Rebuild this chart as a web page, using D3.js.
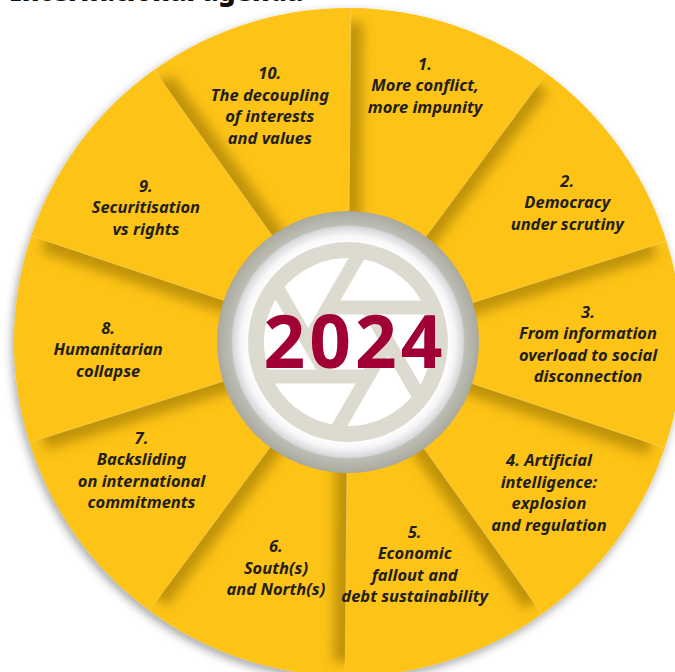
<!DOCTYPE html>
<html><head><meta charset="utf-8">
<script src="https://cdn.jsdelivr.net/npm/d3@7"></script>
<style>html,body{margin:0;padding:0;background:#fff;overflow:hidden}</style>
</head><body>
<svg id="chart" width="675" height="672"></svg>
<script>
// ---------- data ----------
const titleText = "International agenda";
const centerYear = "2024";
const topicLabels = [
  ["1.", "More conflict,", "more impunity"],
  ["2.", "Democracy", "under scrutiny"],
  ["3.", "From information", "overload to social", "disconnection"],
  ["4. Artificial", "intelligence:", "explosion", "and regulation"],
  ["5.", "Economic", "fallout and", "debt sustainability"],
  ["6.", "South(s)", "and North(s)"],
  ["7.", "Backsliding", "on international", "commitments"],
  ["8.", "Humanitarian", "collapse"],
  ["9.", "Securitisation", "vs rights"],
  ["10.", "The decoupling", "of interests", "and values"]
];
const topicWeights = [1, 1, 1, 1, 1, 1, 1, 1, 1, 1];

// ---------- layout ----------
const cx = 348, cy = 342, R = 334;
const rot = 0.5 * Math.PI / 180;
const YELLOW = "#FDC314";
const svg = d3.select("#chart");
const defs = svg.append("defs");

const fOuter = defs.append("filter").attr("id", "outerShadow")
  .attr("x", -0.2).attr("y", -0.2).attr("width", 1.4).attr("height", 1.4);
fOuter.append("feDropShadow").attr("dx", -2).attr("dy", 4).attr("stdDeviation", 5)
  .attr("flood-color", "#000").attr("flood-opacity", 0.35);

const fBlur = defs.append("filter").attr("id", "edgeBlur")
  .attr("filterUnits", "userSpaceOnUse")
  .attr("x", -400).attr("y", -400).attr("width", 800).attr("height", 800);
fBlur.append("feGaussianBlur").attr("stdDeviation", 6);

const gRing = defs.append("radialGradient").attr("id", "grayRing");
[[0.86, "#D2D1CA"], [0.9, "#BDBCB3"], [0.96, "#B2B1A8"], [1, "#A9A89F"]].forEach(s =>
  gRing.append("stop").attr("offset", s[0]).attr("stop-color", s[1]));
const gWhite = defs.append("radialGradient").attr("id", "whiteRing");
[[0.85, "#FFFFFF"], [0.92, "#F6F6F8"], [1, "#D5D5D9"]].forEach(s =>
  gWhite.append("stop").attr("offset", s[0]).attr("stop-color", s[1]));

// title (cut at top, as in the reference)
svg.append("text").attr("x", 10).attr("y", 0.5)
  .attr("font-family", "'Noto Sans', sans-serif").attr("font-weight", 900)
  .attr("font-size", 26.5).attr("fill", "#111").text(titleText);

const pie = d3.pie().value(d => d).sort(null).startAngle(rot).endAngle(2 * Math.PI + rot);
const arcs = pie(topicWeights);
const arc = d3.arc().innerRadius(0).outerRadius(R);

const g = svg.append("g").attr("transform", `translate(${cx},${cy})`);
const wheel = g.append("g").attr("filter", "url(#outerShadow)");
wheel.selectAll("path.seg").data(arcs).join("path").attr("class", "seg")
  .attr("d", arc).attr("fill", YELLOW);

// internal edge shadows (which edge of each segment is shaded)
const shadeEdges = [["s"], ["s"], ["s"], ["s"], ["s"], ["s", "e"], ["e"], ["e"], [], ["s"]];
const polar = (r, a) => [r * Math.sin(a), -r * Math.cos(a)];
arcs.forEach((a, i) => {
  const cid = "clip" + i;
  defs.append("clipPath").attr("id", cid).append("path").attr("d", arc(a));
  const sg = g.append("g").attr("clip-path", `url(#${cid})`);
  const inner = sg.append("g").attr("filter", "url(#edgeBlur)");
  shadeEdges[i].forEach(e => {
    const ang = e === "s" ? a.startAngle : a.endAngle;
    const p = polar(R - 14, ang);
    inner.append("line").attr("x1", 0).attr("y1", 0).attr("x2", p[0]).attr("y2", p[1])
      .attr("stroke", "#9A7400").attr("stroke-opacity", 0.62).attr("stroke-width", 24);
  });
});
// thin highlight on boundaries
arcs.forEach(a => {
  const p0 = polar(131, a.startAngle), p1 = polar(R, a.startAngle);
  g.append("line").attr("x1", p0[0]).attr("y1", p0[1]).attr("x2", p1[0]).attr("y2", p1[1])
    .attr("stroke", "#FFE07A").attr("stroke-width", 0.7).attr("stroke-opacity", 0.6);
});

// center disc
g.append("circle").attr("r", 131).attr("fill", "url(#grayRing)");
g.append("circle").attr("r", 116).attr("fill", "url(#whiteRing)");
g.append("circle").attr("r", 100).attr("fill", "#DDDBCF");
g.append("circle").attr("r", 84).attr("fill", "#FFFFFF");
// aperture blades (feather-style aperture geometry, unit circle r=10 at 12,12)
const s = 8.6;
const blades = [
  [14.31, 8, 20.05, 17.94], [9.69, 8, 21.17, 8], [7.38, 12, 13.12, 2.06],
  [9.69, 16, 3.95, 6.06], [14.31, 16, 2.83, 16], [16.62, 12, 10.88, 21.94]
];
defs.append("clipPath").attr("id", "apClip").append("circle").attr("r", 86);
const ap = g.append("g").attr("clip-path", "url(#apClip)");
blades.forEach(b => {
  const dx = b[2] - b[0], dy = b[3] - b[1], L = Math.hypot(dx, dy);
  const ext = 3 / L;
  ap.append("line")
    .attr("x1", (b[0] - 12) * s).attr("y1", (b[1] - 12) * s)
    .attr("x2", (b[2] - 12 + dx * ext) * s).attr("y2", (b[3] - 12 + dy * ext) * s)
    .attr("stroke", "#DDDBCF").attr("stroke-width", 14);
});
g.append("text").attr("x", 7).attr("y", 26.3).attr("text-anchor", "middle")
  .attr("font-family", "'Noto Sans', sans-serif").attr("font-weight", 700)
  .attr("font-size", 73).attr("letter-spacing", 4).attr("fill", "#A00033")
  .text(centerYear);

// labels
const labelR = [268, 260, 240, 251, 232, 237, 243, 240, 243, 249];
const labelDA = [-1.8, 3, 0, 0.3, 0.8, -0.8, 3.7, -2.2, -2.8, -0.8];
const lineH = 21.5;
arcs.forEach((a, i) => {
  const mid = (a.startAngle + a.endAngle) / 2 + labelDA[i] * Math.PI / 180;
  const p = polar(labelR[i], mid);
  const lines = topicLabels[i];
  const t = g.append("text").attr("text-anchor", "middle")
    .attr("font-family", "'Noto Sans', sans-serif").attr("font-weight", 700)
    .attr("font-style", "italic").attr("font-size", 16.5).attr("fill", "#231F20");
  lines.forEach((ln, k) => {
    t.append("tspan").attr("x", p[0])
      .attr("y", p[1] + (k - (lines.length - 1) / 2) * lineH + 6).text(ln);
  });
});
</script>
</body></html>
